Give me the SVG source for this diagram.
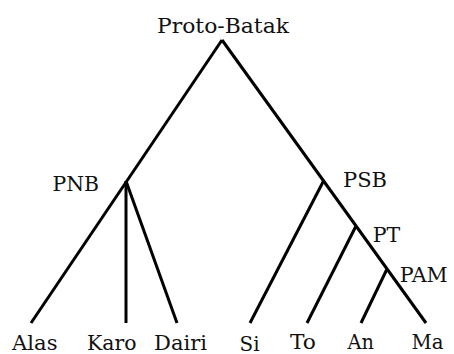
<svg xmlns="http://www.w3.org/2000/svg" width="454" height="354" viewBox="0 0 454 354">
<style>
text{font-family:"DejaVu Serif","Liberation Serif",serif;font-size:20.5px;fill:#111}
.e{stroke:#000;stroke-width:3;fill:none;stroke-linecap:butt}
</style>
<rect width="454" height="354" fill="#fff"/>
<g id="connectors">
<line class="e" x1="222" y1="40" x2="31" y2="323"/>
<line class="e" x1="222" y1="40" x2="426" y2="323"/>
<line class="e" x1="126" y1="181" x2="126" y2="323"/>
<line class="e" x1="126" y1="181" x2="177" y2="323"/>
<line class="e" x1="323.5" y1="181" x2="250" y2="323"/>
<line class="e" x1="356" y1="226" x2="307" y2="323"/>
<line class="e" x1="387" y1="269" x2="361" y2="323"/>
</g>
<g id="proto-batak"><text x="157" y="32.5" textLength="132" lengthAdjust="spacingAndGlyphs">Proto-Batak</text></g>
<g id="pnb"><text x="52.5" y="191" textLength="46.5" lengthAdjust="spacingAndGlyphs">PNB</text></g>
<g id="psb"><text x="343" y="187" textLength="44" lengthAdjust="spacingAndGlyphs">PSB</text></g>
<g id="pt"><text x="372.7" y="241.5" textLength="27.5" lengthAdjust="spacingAndGlyphs">PT</text></g>
<g id="pam"><text x="399.7" y="281.7" textLength="48" lengthAdjust="spacingAndGlyphs">PAM</text></g>
<g id="alas"><text x="12" y="350" textLength="45.5" lengthAdjust="spacingAndGlyphs">Alas</text></g>
<g id="karo"><text x="87" y="350" textLength="49.5" lengthAdjust="spacingAndGlyphs">Karo</text></g>
<g id="dairi"><text x="154" y="350" textLength="53" lengthAdjust="spacingAndGlyphs">Dairi</text></g>
<g id="si"><text x="239.5" y="350.5" textLength="20" lengthAdjust="spacingAndGlyphs">Si</text></g>
<g id="to"><text x="290" y="349" textLength="26" lengthAdjust="spacingAndGlyphs">To</text></g>
<g id="an"><text x="347.5" y="348.5" textLength="26.5" lengthAdjust="spacingAndGlyphs">An</text></g>
<g id="ma"><text x="411.5" y="349" textLength="32" lengthAdjust="spacingAndGlyphs">Ma</text></g>
</svg>
